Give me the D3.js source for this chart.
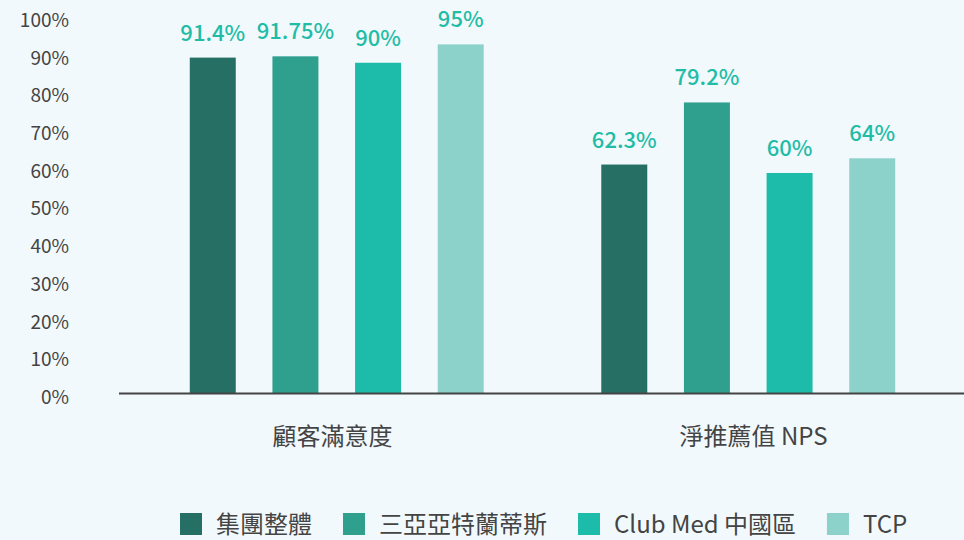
<!DOCTYPE html>
<html>
<head>
<meta charset="utf-8">
<script src="https://cdn.jsdelivr.net/npm/d3@7"></script>
<style>
  body { margin: 0; background: #f1f9fc; }
  svg { display: block; }
</style>
</head>
<body>
<svg id="chart" width="964" height="540"></svg>
<script>
// Chart data
var categories = ['顧客滿意度', '淨推薦值 NPS'];
var seriesNames = ['集團整體', '三亞亞特蘭蒂斯', 'Club Med 中國區', 'TCP'];
var satisfaction = [91.4, 91.75, 90, 95];
var nps = [62.3, 79.2, 60, 64];
var valueLabels = [['91.4%', '91.75%', '90%', '95%'], ['62.3%', '79.2%', '60%', '64%']];
var tickValues = [0, 10, 20, 30, 40, 50, 60, 70, 80, 90, 100];

var colors = ['#266f64', '#2fa08e', '#1dbcaa', '#8cd2cb'];
var fontFamily = '"Noto Sans CJK TC", "Noto Sans", sans-serif';

var svg = d3.select('#chart');
var baseline = 393.5;

var x0 = d3.scaleBand()
    .domain(categories)
    .range([131, 954]);

// category labels centre on the full baseline width
var xLabel = d3.scaleBand()
    .domain(categories)
    .range([122, 964]);

var x1 = d3.scaleBand()
    .domain(seriesNames)
    .range([-165.3, 165.3])
    .paddingInner(0.4436)
    .paddingOuter(0.2218);

// bar scale
var y = d3.scaleLinear()
    .domain([0, 100])
    .range([baseline, 26]);

// tick labels sit on a slightly wider spacing in the reference
var yTicks = d3.scaleLinear()
    .domain([0, 100])
    .range([397, 20]);

var yAxis = d3.axisLeft(yTicks)
    .tickValues(tickValues)
    .tickSize(0)
    .tickPadding(0)
    .tickFormat(function (d) { return d + '%'; });

var axisG = svg.append('g')
    .attr('transform', 'translate(69, 0)')
    .call(yAxis);
axisG.select('.domain').remove();
axisG.selectAll('text')
    .attr('fill', '#444')
    .attr('font-size', 19)
    .attr('font-family', fontFamily)
    .attr('dy', '0.34em');

var table = categories.map(function (c, i) {
    var vals = i === 0 ? satisfaction : nps;
    return {
        category: c,
        values: vals.map(function (v, j) {
            return { name: seriesNames[j], value: v, label: valueLabels[i][j], idx: j };
        })
    };
});

var groups = svg.selectAll('g.group')
    .data(table)
    .enter()
  .append('g')
    .attr('class', 'group')
    .attr('transform', function (d) {
        return 'translate(' + (x0(d.category) + x0.bandwidth() / 2) + ', 0)';
    });

groups.selectAll('rect')
    .data(function (d) { return d.values; })
    .enter()
  .append('rect')
    .attr('x', function (d) { return x1(d.name); })
    .attr('y', function (d) { return y(d.value); })
    .attr('width', x1.bandwidth())
    .attr('height', function (d) { return baseline - y(d.value); })
    .attr('fill', function (d) { return colors[d.idx]; });

groups.selectAll('text.value')
    .data(function (d) { return d.values; })
    .enter()
  .append('text')
    .attr('class', 'value')
    .attr('x', function (d) { return x1(d.name) + x1.bandwidth() / 2; })
    .attr('y', function (d) { return y(d.value) - 17; })
    .attr('text-anchor', 'middle')
    .attr('fill', '#1fbca6')
    .attr('font-size', 22)
    .attr('font-weight', 500)
    .attr('font-family', fontFamily)
    .text(function (d) { return d.label; });

svg.selectAll('text.category')
    .data(categories)
    .enter()
  .append('text')
    .attr('class', 'category')
    .attr('x', function (d) { return xLabel(d) + xLabel.bandwidth() / 2; })
    .attr('y', 445)
    .attr('text-anchor', 'middle')
    .attr('fill', '#444')
    .attr('font-size', 24)
    .attr('font-family', fontFamily)
    .text(function (d) { return d; });

// baseline
svg.append('line')
    .attr('x1', 119)
    .attr('x2', 964)
    .attr('y1', baseline)
    .attr('y2', baseline)
    .style('stroke', '#444')
    .style('stroke-width', 2);

// legend
var legend = svg.append('g').attr('class', 'legend');
var lx = 180;
seriesNames.forEach(function (name, i) {
    var item = legend.append('g').attr('transform', 'translate(' + lx + ', 513)');
    item.append('rect')
        .attr('width', 22)
        .attr('height', 22)
        .attr('fill', colors[i]);
    var t = item.append('text')
        .attr('x', 36)
        .attr('y', 11)
        .attr('dy', '0.36em')
        .attr('fill', '#444')
        .attr('font-size', 24)
        .attr('font-family', fontFamily)
        .text(name);
    lx += 36 + t.node().getComputedTextLength() + 31;
});
</script>
</body>
</html>
